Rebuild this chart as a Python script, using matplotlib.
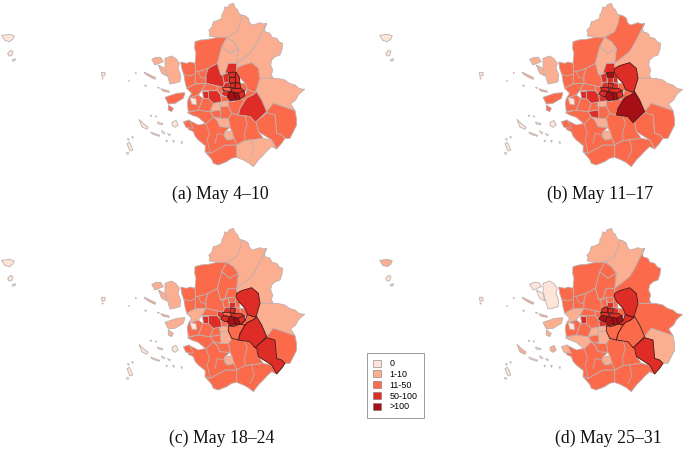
import matplotlib
matplotlib.use('Agg')
import matplotlib.pyplot as plt
from matplotlib.patches import Polygon, Patch

# class colours, 0 to >100
class_labels = ['0', '1-10', '11-50', '50-100', '>100']
class_colors = ['#FEE5D9', '#FCAE91', '#FB6A4A', '#DE2D26', '#A50F15']

captions = ['(a) May 4–10', '(b) May 11–17', '(c) May 18–24', '(d) May 25–31']

# district outlines
region_shapes = {
    'Yeoncheon': [(285,20),(292,24),(298,14),(310,10),(316,24),(322,28),(328,42),(335,45),(345,48),(355,55),(340,70),(330,82),(320,95),(290,112),(262,112),(238,108),(240,95),(236,92),(246,80),(250,65),(262,62),(275,55),(276,42),(280,38)],
    'Pocheon': [(335,45),(345,48),(355,55),(358,66),(365,75),(378,72),(390,68),(400,72),(410,70),(395,100),(380,130),(365,155),(340,175),(320,190),(325,145),(310,125),(290,112),(320,95),(330,70)],
    'Gapyeong': [(410,70),(404,84),(405,95),(420,100),(426,112),(440,115),(448,126),(458,130),(456,148),(450,165),(436,170),(425,180),(422,195),(428,210),(424,225),(430,235),(390,235),(385,205),(365,188),(335,197),(320,205),(320,190),(340,175),(365,155),(380,130),(395,100)],
    'Dongducheon': [(290,112),(310,125),(325,145),(300,160),(275,140)],
    'Yangju': [(275,140),(300,160),(325,145),(320,190),(295,190),(285,220),(272,225),(262,190)],
    'Paju': [(195,125),(212,120),(235,118),(262,112),(290,112),(275,140),(262,190),(235,205),(215,212),(197,215),(195,190),(198,160),(194,145)],
    'Ilsan': [(197,215),(215,212),(235,205),(228,225),(228,250),(205,250),(195,252)],
    'Goyang': [(235,205),(262,190),(272,225),(278,225),(283,250),(280,262),(262,258),(228,250),(228,225)],
    'Gimpo': [(152,186),(170,190),(180,186),(195,190),(197,215),(195,252),(170,265),(165,245),(162,225),(156,208)],
    'Uijeongbu': [(295,190),(320,190),(320,216),(285,220)],
    'Namyangju': [(320,205),(335,197),(365,188),(385,205),(390,235),(378,275),(368,275),(352,268),(345,250),(328,232),(318,216)],
    'Yangpyeong': [(390,235),(430,235),(446,236),(465,240),(478,250),(495,255),(508,266),(524,268),(512,278),(505,285),(497,300),(482,312),(495,332),(478,326),(460,320),(430,310),(410,335),(395,300),(380,275),(378,275)],
    'Icheon': [(410,335),(430,310),(460,320),(495,332),(499,352),(500,375),(490,395),(480,415),(465,415),(455,405),(440,400),(435,345),(410,340)],
    'Yeoju': [(375,368),(410,338),(435,345),(440,400),(455,405),(465,415),(455,430),(440,447),(425,420),(385,395),(380,370)],
    'Gwangju': [(380,275),(395,300),(410,335),(375,368),(360,350),(325,345),(330,325),(345,300),(352,292),(368,285)],
    'Hanam': [(345,287),(352,268),(368,275),(380,275),(368,285),(352,292),(345,300),(330,300)],
    'Guri': [(330,250),(345,250),(352,268),(345,275),(332,265)],
    'Seongnam': [(310,305),(330,297),(345,300),(330,325),(325,345),(305,340),(295,318),(295,302)],
    'Yongin': [(305,340),(325,345),(360,350),(380,370),(385,395),(400,415),(345,422),(320,435),(312,415),(305,392),(300,382),(295,355)],
    'Anseong': [(320,435),(345,422),(400,415),(425,420),(440,447),(425,440),(412,452),(400,465),(385,480),(370,500),(355,488),(340,480),(320,472)],
    'Pyeongtaek': [(240,460),(285,435),(320,435),(320,472),(305,475),(290,485),(265,495),(250,490),(245,478),(225,455)],
    'Hwaseong': [(175,360),(205,375),(228,370),(250,350),(262,362),(270,380),(300,382),(285,395),(283,410),(295,420),(312,415),(320,435),(285,435),(240,460),(225,455),(226,437),(205,420),(196,410),(190,395),(175,388)],
    'Osan': [(285,395),(305,392),(312,415),(295,420),(283,410)],
    'Suwon': [(250,350),(272,355),(295,355),(300,382),(270,380),(262,362)],
    'Uiwang': [(272,320),(295,318),(305,340),(295,355),(272,355)],
    'Gwacheon': [(272,305),(295,302),(295,318),(272,320)],
    'Anyang': [(250,310),(268,305),(272,330),(258,332),(240,335)],
    'Gunpo': [(240,335),(258,332),(272,330),(272,355),(250,350)],
    'Ansan': [(172,338),(205,330),(240,335),(250,350),(228,372),(205,352),(185,345)],
    'Siheung': [(218,295),(235,295),(250,310),(240,335),(205,330)],
    'Gwangmyeong': [(235,272),(262,272),(272,285),(275,305),(250,310),(235,295)],
    'Bucheon': [(215,272),(235,272),(235,295),(218,295)],
    'Namdong': [(175,295),(205,285),(218,295),(205,330),(175,335),(172,310)],
    'IncheonSeo': [(170,265),(195,252),(228,250),(215,272),(205,285),(175,295),(185,280)],
    'Bupyeong': [(228,250),(262,258),(262,272),(235,272),(215,272)],
    'Ganghwa': [(105,175),(125,168),(138,176),(148,190),(144,205),(152,225),(150,245),(132,250),(120,252),(112,225),(105,200)],
    'Gyodong': [(65,178),(78,172),(92,172),(100,185),(75,195)],
    'Seokmo': [(85,195),(105,205),(110,228),(95,220)],
    'Yeongjong': [(105,292),(140,280),(165,278),(160,295),(135,310),(115,312)],
    'Muui': [(115,315),(130,325),(125,335),(115,330)],
    'IncheonJung': [(180,292),(198,296),(200,315),(185,312)],
    'AnsanIsle': [(160,365),(178,360),(190,385),(168,382)],
    'Eunpyeong': [(278,225),(295,218),(298,245),(283,250)],
    'Dobong': [(295,218),(318,216),(316,232),(298,232)],
    'Nowon': [(318,216),(328,232),(330,250),(316,248),(316,232)],
    'Seongbuk': [(298,232),(316,232),(316,248),(300,250),(298,245)],
    'Jongno': [(283,250),(298,245),(300,262),(280,262)],
    'Jungnang': [(316,248),(330,250),(332,265),(314,265)],
    'Jung': [(300,250),(316,250),(314,265),(300,262)],
    'Mapo': [(278,262),(300,262),(305,275),(280,272)],
    'Gwangjin': [(305,265),(332,265),(342,272),(335,283),(318,278),(305,275)],
    'Gangseo': [(262,258),(278,262),(280,272),(272,282),(262,272)],
    'Yeongdeungpo': [(272,282),(280,272),(298,275),(302,288),(285,290)],
    'Seocho': [(298,275),(312,278),(318,300),(300,302),(292,290)],
    'Gangnam': [(312,278),(325,280),(330,297),(318,300)],
    'Songpa': [(325,280),(342,272),(345,287),(330,297)],
    'Gwanak': [(272,285),(285,290),(292,290),(300,302),(275,305)],
    'Baengnyeong': [(-385,106),(-360,103),(-347,108),(-352,118),(-362,125),(-376,121)],
    'Daecheong': [(-367,160),(-358,151),(-351,154),(-355,167),(-363,168)],
    'Soyeonpyeong': [(-353,179),(-343,176),(-346,183),(-353,183)],
    'Yeonpyeong': [(-86,217),(-75,217),(-75,227),(-84,229)],
    'StripNorth': [(42,216),(52,221),(77,233),(75,238),(60,231),(46,222)],
    'StripMid': [(92,266),(117,273),(118,277),(100,274)],
    'Seungbong': [(27,358),(40,371),(54,381),(51,388),(36,381)],
    'Jawol': [(62,396),(89,406),(87,409),(67,402)],
    'Yeongheung': [(82,366),(99,371),(97,374),(85,372)],
    'Deokjeok': [(126,367),(138,361),(145,375),(135,382),(127,377)],
    'Gureop': [(-9,431),(-2,427),(5,440),(8,450),(0,453),(-5,442)],
}

region_names = list(region_shapes)

class_a = [1,1,1,1,1,2,2,3,2,3,2,1,2,2,3,2,2,2,2,1,2,2,1,1,2,1,1,2,2,2,3,3,2,2,2,1,1,1,2,2,0,2,3,3,3,3,3,3,3,2,3,2,3,4,4,3,2,0,0,0,0,1,1,0,0,0,0,0]
class_b = [1,2,1,1,1,2,2,2,2,3,3,1,2,2,4,2,2,2,2,2,2,2,1,1,2,1,2,3,2,2,3,3,2,2,2,1,1,1,2,2,0,2,3,4,3,3,3,3,3,3,3,2,3,4,4,3,3,0,0,0,0,1,1,0,0,0,0,0]
class_c = [1,1,1,2,2,2,2,2,2,2,3,1,2,3,3,2,2,2,2,2,2,2,1,2,1,1,2,2,2,2,3,3,2,1,2,1,1,1,1,1,0,2,2,2,2,3,3,2,3,2,3,3,3,4,4,3,2,0,0,0,0,1,1,0,0,0,0,0]
class_d = [1,1,2,2,2,2,2,2,2,2,3,2,1,3,2,3,2,2,2,2,2,2,1,2,1,1,1,2,1,2,2,3,2,1,2,0,0,0,1,1,0,1,2,2,2,3,3,3,3,3,3,2,4,4,4,4,3,1,0,0,0,1,1,1,0,0,1,0]

dark_a = ['Dobong','Nowon','Seongbuk','Jungnang','Jung','Mapo','Gwangjin','Seocho','Gangnam','Songpa']
dark_b = ['Namyangju','Gwangju','Mapo','Gwangjin','Yeongdeungpo','Seocho','Gangnam','Songpa','Dobong','Jung']
dark_c = ['Namyangju','Gwangju','Yeoju','Hanam','Gwangjin','Jung','Mapo','Yeongdeungpo','Seocho','Gangnam','Songpa','Seongnam']
dark_d = ['Namyangju','Gwangju','Yeoju','Hanam','Gwangjin','Jung','Mapo','Yeongdeungpo','Seocho','Gangnam','Songpa','Seongnam','Jongno']

# tiny islands, all with next to no fill
speck_shapes = [
    [(15,218),(19,218),(18,222)], [(-5,242),(-1,242),(-2,245)], [(-85,234),(-80,234),(-82,238)],
    [(82,262),(88,262),(86,266)], [(95,392),(105,398),(102,402),(96,398)], [(112,400),(122,404),(118,408)],
    [(-8,416),(-2,416),(-4,422)], [(5,410),(10,410),(8,416)], [(-12,458),(-4,458),(-6,464)],
    [(75,348),(80,348),(78,352)], [(60,345),(66,347),(62,350)], [(108,420),(113,422),(110,426)],
    [(128,420),(133,422),(131,428)], [(153,425),(157,425),(156,432)], [(44,255),(50,257),(46,260)],
]

# a few of the finer boundary lines inside the large districts
inner_lines = [
    [(345,347),(352,372),(344,396),(345,422)],
    [(228,372),(238,398),(232,420),(240,460)],
    [(205,215),(212,232),(228,236)],
    [(290,420),(282,405),(262,400),(255,430)],
    [(160,222),(178,228),(195,222)],
    [(365,420),(372,450),(360,475)],
]

panel_classes = [class_a, class_b, class_c, class_d]
panel_dark = [dark_a, dark_b, dark_c, dark_d]

# where each map sits on the page, pixels
panel_origin = [(0, 0), (378, 0), (0, 225), (378, 225)]
caption_pos = [(220, 194), (600, 194), (222, 438), (608, 438)]

W, H = 685, 449
fig = plt.figure(figsize=(W / 100, H / 100), dpi=100, facecolor='white')

panel_w, panel_h = 307, 175
for origin, classes, dark in zip(panel_origin, panel_classes, panel_dark):
    ax = fig.add_axes([origin[0] / W, 1 - (origin[1] + panel_h) / H, panel_w / W, panel_h / H])
    ax.set_xlim(-390, 531)
    ax.set_ylim(525, 0)
    ax.axis('off')
    for name, cls in zip(region_names, classes):
        if name in dark:
            continue
        ax.add_patch(Polygon(region_shapes[name], closed=True, facecolor=class_colors[cls],
                             edgecolor='#BDB0AE', linewidth=0.6, zorder=2))
    for line in inner_lines:
        ax.plot([p[0] for p in line], [p[1] for p in line], color='#BDB0AE', linewidth=0.6, zorder=2.5)
    for speck in speck_shapes:
        ax.add_patch(Polygon(speck, closed=True, facecolor='#FBF0EC', edgecolor='#BDB0AE', linewidth=0.5, zorder=2))
    for name, cls in zip(region_names, classes):
        if name in dark:
            ax.add_patch(Polygon(region_shapes[name], closed=True, facecolor=class_colors[cls],
                                 edgecolor='#4A1512', linewidth=0.6, zorder=3))

for text, pos in zip(captions, caption_pos):
    fig.text(pos[0] / W, 1 - pos[1] / H, text, family='Liberation Serif', fontsize=12.8,
             color='#111111', ha='center', va='center')

handles = [Patch(facecolor=c, edgecolor='#777777', linewidth=0.4) for c in class_colors]
leg = fig.legend(handles, class_labels, loc='upper left', bbox_to_anchor=(367 / W, 1 - 353 / H),
                 borderaxespad=0, prop={'family': 'Liberation Sans', 'size': 6.4},
                 fancybox=False, edgecolor='#999999', framealpha=1, handlelength=0.85, handleheight=0.85,
                 labelspacing=0.2, borderpad=0.7, handletextpad=1.0)
leg.get_frame().set_linewidth(0.7)

plt.savefig('out.png', dpi=100, facecolor='white')
plt.close()
